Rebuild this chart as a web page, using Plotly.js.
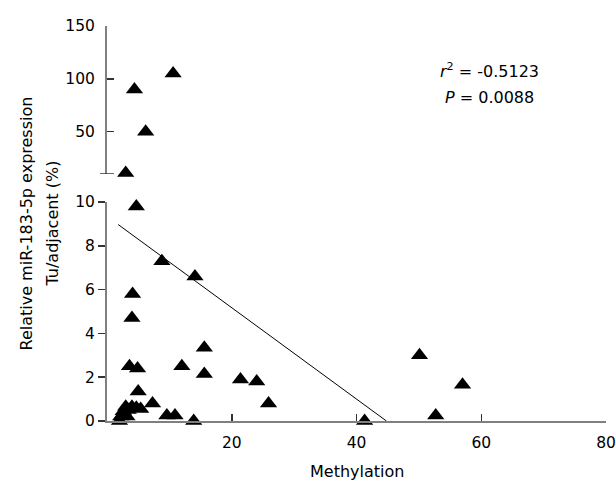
<!DOCTYPE html>
<html>
<head>
<meta charset="utf-8">
<script src="https://cdn.plot.ly/plotly-3.0.1.min.js"></script>
<style>html,body{margin:0;padding:0;background:#fff;}#chart{width:616px;height:484px;}</style>
</head>
<body>
<div id="chart"></div>
<script>
// Lower segment (0-10) points
var lowX = [4.7, 8.8, 14.1, 4.1, 4.0, 15.6, 3.6, 4.9, 12.0, 15.6, 21.4, 24.0, 25.9, 5.0, 7.3, 9.6, 10.9, 13.9,
            2.0, 2.2, 2.6, 3.0, 3.4, 4.0, 4.7, 5.4, 3.2, 50.1, 57.0, 52.7, 41.3];
var lowY = [9.8, 7.3, 6.6, 5.8, 4.7, 3.35, 2.5, 2.4, 2.5, 2.15, 1.9, 1.8, 0.8, 1.35, 0.8, 0.25, 0.25, 0.0,
            0.0, 0.2, 0.45, 0.65, 0.5, 0.65, 0.6, 0.55, 0.2, 3.0, 1.65, 0.25, 0.0];
// Upper segment (10-150) points
var highX = [4.4, 10.6, 6.2, 3.0];
var highY = [90, 105, 50, 11];
// Regression line end points
var fitX = [1.8, 44.8];
var fitY = [8.97, 0];
var xTicks = [20, 40, 60, 80];
var yLowTicks = [0, 2, 4, 6, 8, 10];
var yHighTicks = [50, 100, 150];

var font = 'DejaVu Sans, Verdana, sans-serif';
var axisColor = '#808080';
var mk = {symbol: 'triangle-up', size: 15, color: '#000'};

var traces = [
  {x: fitX, y: fitY, mode: 'lines', line: {color: '#000', width: 1}, xaxis: 'x', yaxis: 'y', hoverinfo: 'skip'},
  {x: lowX, y: lowY, mode: 'markers', marker: mk, xaxis: 'x', yaxis: 'y', cliponaxis: false},
  {x: highX, y: highY, mode: 'markers', marker: mk, xaxis: 'x', yaxis: 'y2', cliponaxis: false}
];

var layout = {
  width: 616, height: 484,
  margin: {l: 107, r: 10, t: 26, b: 63},
  paper_bgcolor: '#fff', plot_bgcolor: '#fff',
  showlegend: false,
  font: {family: font, size: 15.5, color: '#000'},
  xaxis: {
    range: [0, 80], tickvals: xTicks, ticktext: xTicks.map(String),
    ticks: 'inside', ticklen: 7, tickwidth: 1.5, tickcolor: '#333',
    showline: true, linecolor: axisColor, linewidth: 2,
    showgrid: false, zeroline: false, ticklabelstandoff: 6,
    anchor: 'y'
  },
  yaxis: {
    domain: [0, 0.5544], range: [0, 10], tickvals: yLowTicks, ticktext: yLowTicks.map(String),
    ticks: 'outside', ticklen: 7, tickwidth: 1.5, tickcolor: '#333',
    showline: true, linecolor: axisColor, linewidth: 2,
    showgrid: false, zeroline: false, anchor: 'x'
  },
  yaxis2: {
    domain: [0.6253, 1], range: [10, 150], tickvals: yHighTicks, ticktext: yHighTicks.map(String),
    ticks: 'inside', ticklen: 7, tickwidth: 1.5, tickcolor: '#333',
    showline: true, linecolor: axisColor, linewidth: 2,
    showgrid: false, zeroline: false, anchor: 'x', ticklabelstandoff: 7
  },
  shapes: [
    {type: 'line', xref: 'paper', yref: 'y2', x0: -0.014, x1: 0.014, y0: 10, y1: 10,
     line: {color: '#333', width: 1.5}}
  ],
  annotations: [
    {text: '<i>r</i><sup>2</sup> = -0.5123', xref: 'paper', yref: 'paper', x: 0.766, y: 0.888,
     xanchor: 'center', yanchor: 'middle', showarrow: false, font: {size: 16}},
    {text: '<i>P</i> = 0.0088', xref: 'paper', yref: 'paper', x: 0.766, y: 0.818,
     xanchor: 'center', yanchor: 'middle', showarrow: false, font: {size: 16}},
    {text: 'Methylation', xref: 'paper', yref: 'paper', x: 0.5, y: -0.158,
     xanchor: 'center', yanchor: 'bottom', showarrow: false, font: {size: 16}},
    {text: 'Relative miR-183-5p expression', xref: 'paper', yref: 'paper', x: (26 - 107) / 499, y: 0.5,
     xanchor: 'center', yanchor: 'middle', textangle: -90, showarrow: false, font: {size: 16}},
    {text: 'Tu/adjacent (%)', xref: 'paper', yref: 'paper', x: (52 - 107) / 499, y: 0.5,
     xanchor: 'center', yanchor: 'middle', textangle: -90, showarrow: false, font: {size: 16}}
  ]
};

Plotly.newPlot('chart', traces, layout, {displayModeBar: false, staticPlot: true});
</script>
</body>
</html>
